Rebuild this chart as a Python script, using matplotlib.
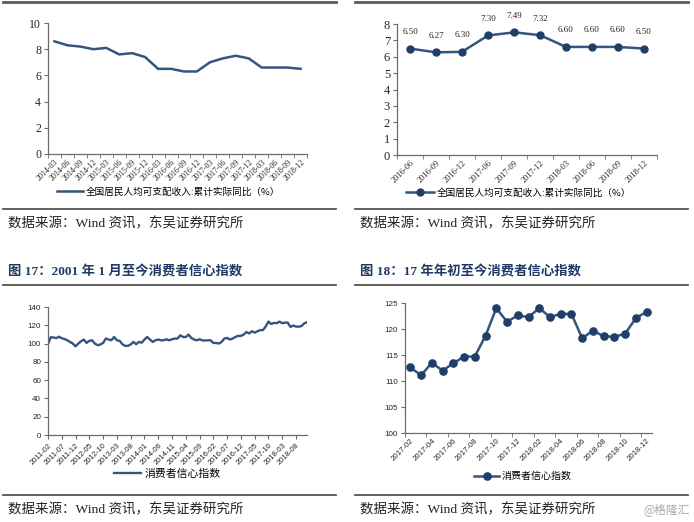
import matplotlib
matplotlib.use("Agg")
import matplotlib.pyplot as plt

W, H = 694, 522

# ---------------- data ----------------
q_labels = ["2014-03", "2014-06", "2014-09", "2014-12", "2015-03", "2015-06", "2015-09",
            "2015-12", "2016-03", "2016-06", "2016-09", "2016-12", "2017-03", "2017-06",
            "2017-09", "2017-12", "2018-03", "2018-06", "2018-09", "2018-12"]
income_long = [8.6, 8.3, 8.2, 8.0, 8.1, 7.6, 7.7, 7.4, 6.5, 6.5, 6.3, 6.3, 7.0, 7.3,
               7.5, 7.3, 6.6, 6.6, 6.6, 6.5]

short_labels = ["2016-06", "2016-09", "2016-12", "2017-06", "2017-09", "2017-12",
                "2018-03", "2018-06", "2018-09", "2018-12"]
income_short = [6.50, 6.27, 6.30, 7.30, 7.49, 7.32, 6.60, 6.60, 6.60, 6.50]

cci_long_start = (2011, 2)
cci_long = [99.5, 107.0, 106.6, 106.0, 107.5, 105.8, 105.0, 103.6, 101.8, 100.0, 97.0,
            100.0, 102.5, 104.4, 100.7, 103.0, 103.6, 100.0, 98.2, 99.0, 100.7,
            105.5, 104.4, 103.6, 107.2, 103.6, 103.0, 99.3, 97.5, 97.5, 99.0,
            101.8, 99.3, 101.8, 101.0, 104.4, 107.2, 104.4, 101.8, 103.6, 104.4,
            103.6, 103.6, 104.7, 103.6, 104.7, 105.5, 105.5, 109.0, 107.2, 107.2,
            109.8, 106.2, 104.4, 103.6, 104.7, 103.6, 103.3, 103.6, 103.6, 100.7,
            100.7, 100.0, 101.8, 105.5, 106.2, 104.4, 105.5, 107.2, 108.4, 108.4,
            109.8, 112.6, 111.1, 113.5, 112.0, 113.4, 114.7, 114.7, 118.7, 124.0,
            121.4, 122.6, 122.3, 124.0, 122.3, 122.9, 122.9, 118.2, 119.7, 118.6,
            118.5, 119.1, 122.1, 123.3]

cci_short_labels = ["2017-02", "2017-03", "2017-04", "2017-05", "2017-06", "2017-07",
                    "2017-08", "2017-09", "2017-10", "2017-11", "2017-12", "2018-01",
                    "2018-02", "2018-03", "2018-04", "2018-05", "2018-06", "2018-07",
                    "2018-08", "2018-09", "2018-10", "2018-11", "2018-12"]
cci_short = [112.6, 111.1, 113.5, 112.0, 113.4, 114.7, 114.7, 118.7, 124.0, 121.4, 122.6,
             122.3, 124.0, 122.3, 122.9, 122.9, 118.2, 119.7, 118.6, 118.5, 119.1,
             122.1, 123.3]

legend_income = "全国居民人均可支配收入:累计实际同比（%）"
legend_cci = "消费者信心指数"
source_text = "数据来源：Wind 资讯，东吴证券研究所"
caption_17 = "图 17：2001 年 1 月至今消费者信心指数"
caption_18 = "图 18：17 年年初至今消费者信心指数"
watermark = "@格隆汇"

# ---------------- style ----------------
LINE = "#34557d"
MARK = "#1f3f68"
SPINE = "#6b6b6b"
TXT = "#262626"
SERIF = ["Liberation Serif", "Noto Sans CJK SC"]
SANS = ["Liberation Sans", "Noto Sans CJK SC"]
CJK = ["Noto Sans CJK SC", "DejaVu Sans"]
SRC = ["Liberation Serif", "Noto Sans CJK SC"]

fig = plt.figure(figsize=(W / 100, H / 100), dpi=100)
fig.patch.set_facecolor("white")


def fx(x):
    return x / W


def fy(y):
    return 1 - y / H


def add_ax(l, t, r, b):
    return fig.add_axes([fx(l), fy(b), fx(r - l), (b - t) / H])


def hline(y, x0, x1, lw=1.3, color="#555555"):
    fig.add_artist(plt.Line2D([fx(x0), fx(x1)], [fy(y), fy(y)], transform=fig.transFigure,
                              color=color, lw=lw))


def style_ax(ax):
    for s in ["top", "right"]:
        ax.spines[s].set_visible(False)
    for s in ["left", "bottom"]:
        ax.spines[s].set_color(SPINE)
        ax.spines[s].set_linewidth(0.9)
    ax.tick_params(colors=SPINE, labelcolor=TXT, width=0.8)
    ax.set_facecolor("white")


# ---------- top-left ----------
ax1 = add_ax(48, 23, 307, 154)
style_ax(ax1)
x1 = list(range(len(income_long)))
ax1.plot(x1, income_long, color=LINE, lw=1.8, label=legend_income)
ax1.set_xlim(-0.5, len(x1) - 0.5)
ax1.set_ylim(0, 10)
ax1.set_yticks(range(0, 11, 2))
ax1.set_xticks(x1)
ax1.set_xticklabels(q_labels, rotation=45, ha="right", rotation_mode="anchor",
                    fontsize=5.8, family=SERIF)
ax1.set_xticks([i - 0.5 for i in range(len(x1) + 1)], minor=True)
ax1.tick_params(axis="x", which="major", length=0, pad=3)
ax1.tick_params(axis="x", which="minor", length=3, color=SPINE)
ax1.tick_params(axis="y", length=3, pad=2)
for t in ax1.get_yticklabels():
    t.set_family(SERIF)
    t.set_fontsize(8.5)
ax1.legend(loc="center", bbox_to_anchor=(fx(169), fy(192)), bbox_transform=fig.transFigure,
           frameon=False, prop={"family": CJK, "size": 6.9}, handlelength=2.7,
           handletextpad=0.3)

# ---------- top-right ----------
ax2 = add_ax(397, 24, 657, 155)
style_ax(ax2)
x2 = list(range(len(income_short)))
ax2.plot(x2, income_short, color=LINE, lw=1.8, marker="o", ms=5, mfc=MARK, mec=MARK,
         label=legend_income)
for xi, v in zip(x2, income_short):
    ax2.annotate(f"{v:.2f}", (xi, v), xytext=(0, 9), textcoords="offset points",
                 ha="center", va="bottom", fontsize=6.5, family=SERIF, color=TXT)
ax2.set_xlim(-0.5, len(x2) - 0.5)
ax2.set_ylim(0, 8)
ax2.set_yticks(range(0, 9))
ax2.set_xticks(x2)
ax2.set_xticklabels(short_labels, rotation=45, ha="right", rotation_mode="anchor",
                    fontsize=6, family=SERIF)
ax2.set_xticks([i - 0.5 for i in range(len(x2) + 1)], minor=True)
ax2.tick_params(axis="x", which="major", length=0, pad=3)
ax2.tick_params(axis="x", which="minor", length=3, color=SPINE)
ax2.tick_params(axis="y", length=3, pad=2)
for t in ax2.get_yticklabels():
    t.set_family(SERIF)
    t.set_fontsize(9)
ax2.legend(loc="center", bbox_to_anchor=(fx(519), fy(193)), bbox_transform=fig.transFigure,
           frameon=False, prop={"family": CJK, "size": 6.9}, handlelength=2.9,
           handletextpad=0.3)

# ---------- bottom-left ----------
ax3 = add_ax(48, 307, 307, 435)
style_ax(ax3)
x3 = list(range(len(cci_long)))
ax3.plot(x3, cci_long, color=LINE, lw=1.7, label=legend_cci)
ax3.set_xlim(0, len(x3) - 1)
ax3.set_ylim(0, 140)
ax3.set_yticks(range(0, 141, 20))
y0, m0 = cci_long_start
lab3 = []
pos3 = list(range(0, len(x3), 5))
for i in pos3:
    mm = m0 - 1 + i
    lab3.append(f"{y0 + mm // 12}-{mm % 12 + 1:02d}")
ax3.set_xticks(pos3)
ax3.set_xticklabels(lab3, rotation=45, ha="right", rotation_mode="anchor",
                    fontsize=5.5, family=SANS)
ax3.tick_params(axis="x", length=3, pad=2)
ax3.tick_params(axis="y", length=3, pad=2)
for t in ax3.get_yticklabels():
    t.set_family(SANS)
    t.set_fontsize(5.8)
ax3.legend(loc="center", bbox_to_anchor=(fx(167), fy(474)), bbox_transform=fig.transFigure,
           frameon=False, prop={"family": CJK, "size": 7.8}, handlelength=2.5,
           handletextpad=0.3)

# ---------- bottom-right ----------
ax4 = add_ax(405, 303, 652, 433)
style_ax(ax4)
x4 = list(range(len(cci_short)))
ax4.plot(x4, cci_short, color=LINE, lw=1.8, marker="o", ms=5.2, mfc=MARK, mec=MARK,
         label=legend_cci)
ax4.set_xlim(-0.5, len(x4) - 0.5)
ax4.set_ylim(100, 125)
ax4.set_yticks(range(100, 126, 5))
ax4.set_xticks(x4[::2])
ax4.set_xticklabels(cci_short_labels[::2], rotation=45, ha="right", rotation_mode="anchor",
                    fontsize=5.6, family=SANS)
ax4.set_xticks([i - 0.5 for i in range(len(x4) + 1)][::2], minor=True)
ax4.tick_params(axis="x", which="major", length=0, pad=3)
ax4.tick_params(axis="x", which="minor", length=3, color=SPINE)
ax4.tick_params(axis="y", length=3, pad=2)
for t in ax4.get_yticklabels():
    t.set_family(SANS)
    t.set_fontsize(5.8)
ax4.legend(loc="center", bbox_to_anchor=(fx(523), fy(476)), bbox_transform=fig.transFigure,
           frameon=False, prop={"family": CJK, "size": 7.2}, handlelength=2.5,
           handletextpad=0.3)

# ---------- frame lines & texts ----------
for (a, b) in [(3, 336), (355, 688)]:
    hline(1.5, a, b, lw=2.0, color="#5a5a5a")
    hline(209, a, b)
    hline(285, a, b)
    hline(495, a, b)

for x0 in (8, 360):
    fig.text(fx(x0), fy(224), source_text, family=SRC, fontsize=9.7, color="#222222",
             va="center", ha="left")
    fig.text(fx(x0), fy(510), source_text, family=SRC, fontsize=9.7, color="#222222",
             va="center", ha="left")

fig.text(fx(8), fy(272), caption_17, family=SRC, fontsize=9.6, color="#1f3a64",
         fontweight="bold", va="center", ha="left")
fig.text(fx(360), fy(272), caption_18, family=SRC, fontsize=9.6, color="#1f3a64",
         fontweight="bold", va="center", ha="left")
fig.text(fx(690), fy(510), watermark, family=CJK, fontsize=8.5, color="#a8a8a8",
         va="center", ha="right")

fig.savefig("out.png", dpi=100, facecolor="white")
